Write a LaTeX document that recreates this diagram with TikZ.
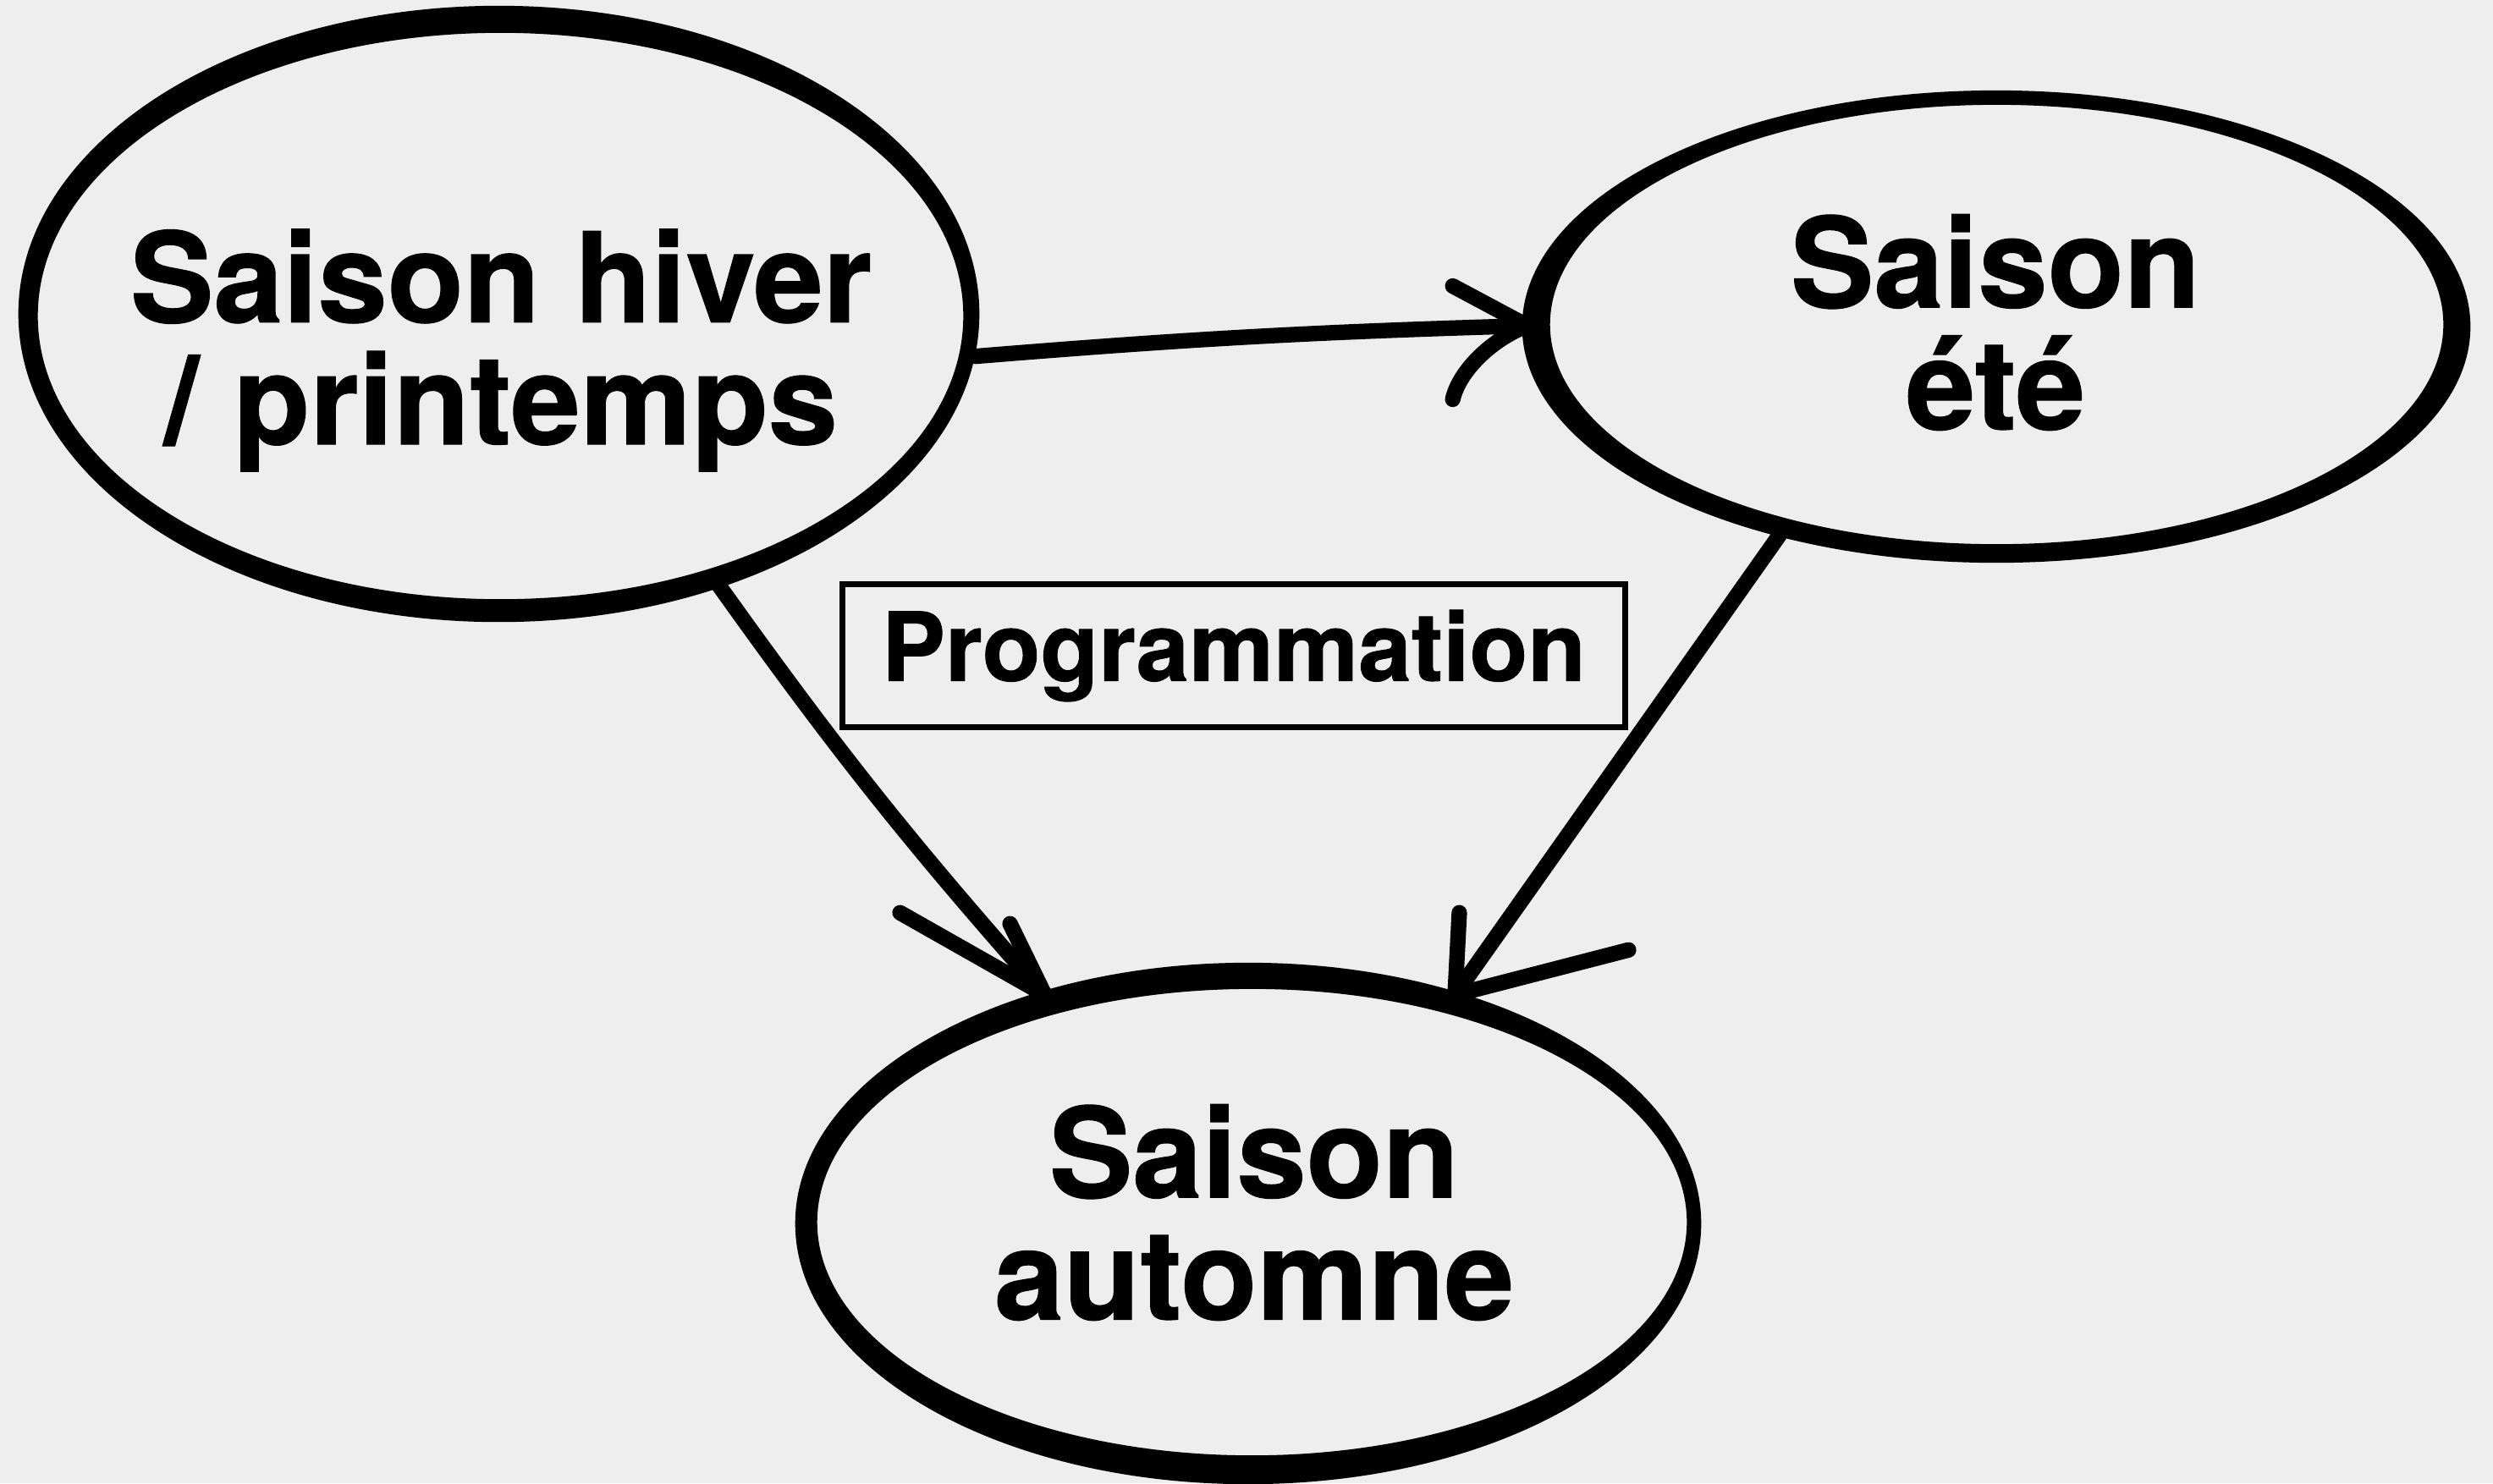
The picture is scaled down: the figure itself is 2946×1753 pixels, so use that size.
\documentclass[tikz,border=0pt]{standalone}
\usepackage{fontspec}
\setmainfont{TeX Gyre Heros}[BoldFeatures={FakeBold=0.8}]
\usetikzlibrary{shapes.geometric,arrows.meta,calc}
\definecolor{paper}{RGB}{238,238,238}
\begin{document}
\begin{tikzpicture}[x=0.01cm,y=-0.01cm,
  season/.style={ellipse, draw, line width=3.5pt, inner sep=0pt, outer sep=0.1cm},
  ring/.style={fill=black, even odd rule},
  seasontext/.style={font=\fontsize{42}{41}\selectfont\bfseries, align=center, inner sep=0pt},
  progbox/.style={draw, line width=2pt, inner sep=0pt, minimum width=9.24cm, minimum height=1.68cm, font=\fontsize{32}{36}\selectfont\bfseries},
  arr/.style={line width=5.2pt, line cap=round, line join=round},
  barb/.style={line width=5.2pt, line cap=round}]
\fill[paper] (0,0) rectangle (2946,1753);
\useasboundingbox (0,0) rectangle (2946,1753);

% season ellipses
\node[season, minimum width=11.14cm, minimum height=6.98cm] (hiver) at (590.5,372) {};
\node[season, minimum width=10.88cm, minimum height=5.38cm] (ete) at (2359,385) {};
\node[season, minimum width=10.48cm, minimum height=5.84cm] (automne) at (1477,1445) {};

% hand-drawn stroke thickness
\fill[ring] ($(hiver.center)+(-1,-1)$) ellipse [x radius=5.675cm, y radius=3.64cm]
            ($(hiver.center)+(1,1.5)$) ellipse [x radius=5.465cm, y radius=3.345cm];
\fill[ring] ($(ete.center)+(0,1)$) ellipse [x radius=5.60cm, y radius=2.79cm]
            ($(ete.center)+(0.5,-1.5)$) ellipse [x radius=5.275cm, y radius=2.595cm];
\fill[ring] ($(automne.center)+(-2,1)$) ellipse [x radius=5.35cm, y radius=3.08cm]
            ($(automne.center)+(2.5,-0.5)$) ellipse [x radius=5.135cm, y radius=2.755cm];

\node[seasontext] (hivertext) at (592,414) {Saison hiver\\/ printemps};
\node[seasontext] (etetext) at (2358,381) {Saison\\été};
\node[seasontext] (automnetext) at (1482,1433) {Saison\\automne};

\node[progbox] (prog) at (1458,775) {Programmation};

% connectors
\draw[arr] (hiver.-5.5) to[bend left=1.5] (ete.180);
\draw[arr] (hiver.-51.8) to[bend right=3] (automne.132.9);
\draw[arr] (ete.224.8) -- (automne.48.65);

% arrowheads
\coordinate (b1end) at ($(ete.180)+(-88,87)$);
\draw[barb] (ete.180) -- ++(-88,-47);
\draw[barb] (ete.180) .. controls ($(ete.180)+(-40,15)$) and ($(b1end)+(8,-35)$) .. (b1end);
\draw[barb] (automne.132.9) -- ++(-171,-97);
\draw[barb] (automne.132.9) -- ++(-41,-84);
\draw[barb] (automne.48.65) -- ++(5,-97);
\draw[barb] (automne.48.65) -- ++(205,-53);
\end{tikzpicture}
\end{document}
